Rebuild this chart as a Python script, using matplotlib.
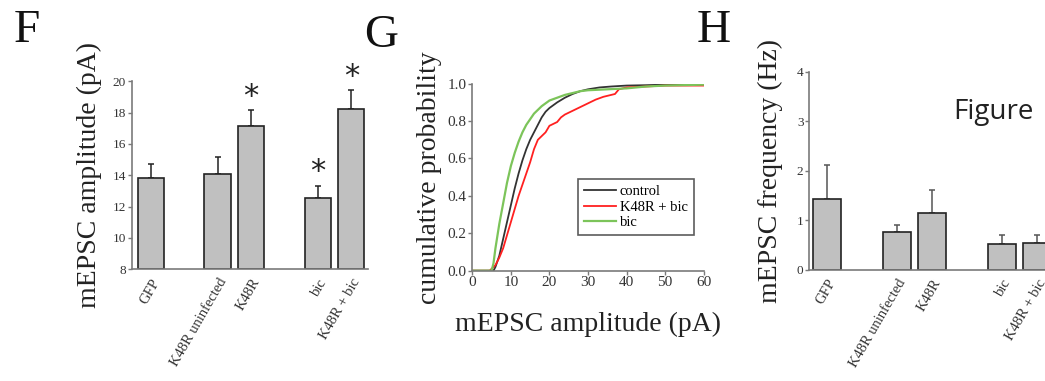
import matplotlib
matplotlib.use("Agg")
import matplotlib.pyplot as plt
import numpy as np

plt.rcParams['font.family'] = ['Liberation Serif', 'DejaVu Serif']

# ---------------- data ----------------
bar_labels = ["GFP", "K48R uninfected", "K48R", "bic", "K48R + bic"]
bar_pos = [0, 2, 3, 5, 6]

amp_mean = [13.81, 14.08, 17.13, 12.57, 18.25]
amp_err = [0.89, 1.07, 1.02, 0.77, 1.17]
amp_sig = [False, False, True, True, True]

freq_mean = [1.43, 0.76, 1.14, 0.52, 0.54]
freq_err = [0.68, 0.15, 0.48, 0.18, 0.16]

ctrl_x = [0, 5.5, 6, 7, 8, 9, 10, 11, 12, 13, 14, 15, 16, 17, 18, 19, 20, 22,
          24, 26, 28, 30, 33, 36, 40, 45, 50, 55, 60]
ctrl_y = [0, 0, 0.02, 0.08, 0.17, 0.26, 0.35, 0.44, 0.52, 0.59, 0.65, 0.70,
          0.74, 0.78, 0.82, 0.85, 0.87, 0.90, 0.925, 0.945, 0.96, 0.97, 0.98,
          0.985, 0.99, 0.992, 0.995, 0.997, 0.998]

redx = [0, 4.5, 5, 6, 7, 8, 9, 10, 11, 12, 13, 14, 15, 16, 17, 18, 19, 20, 21,
        22, 23, 24, 26, 28, 30, 32, 34, 36, 37, 38, 40, 45, 50, 60]
redy = [0, 0, 0.01, 0.03, 0.07, 0.12, 0.19, 0.26, 0.33, 0.40, 0.46, 0.52, 0.58,
        0.65, 0.70, 0.72, 0.74, 0.775, 0.785, 0.795, 0.82, 0.835, 0.855, 0.875,
        0.895, 0.915, 0.93, 0.94, 0.945, 0.97, 0.98, 0.985, 0.99, 0.99]

bic_x = [0, 5, 5.5, 6, 7, 8, 9, 10, 11, 12, 13, 14, 15, 16, 17, 18, 19, 20, 22,
         24, 26, 28, 30, 35, 40, 45, 50, 60]
bic_y = [0, 0, 0.04, 0.12, 0.25, 0.36, 0.47, 0.56, 0.63, 0.69, 0.74, 0.78,
         0.81, 0.84, 0.86, 0.88, 0.895, 0.91, 0.925, 0.94, 0.95, 0.96, 0.965,
         0.97, 0.975, 0.985, 0.99, 0.995]

W, H = 1045, 381
fig = plt.figure(figsize=(W / 100, H / 100), dpi=100)

spine_c = '#7a7a7a'
tick_c = '#333333'
bar_fc = '#c0c0c0'
bar_ec = '#222222'


def ax_rect(x0, x1, ytop, ybot):
    return [x0 / W, (H - ybot) / H, (x1 - x0) / W, (ybot - ytop) / H]


def style_bar_axes(ax):
    for s in ['top', 'right']:
        ax.spines[s].set_visible(False)
    for s in ['left', 'bottom']:
        ax.spines[s].set_color(spine_c)
        ax.spines[s].set_linewidth(1.2)
    ax.tick_params(axis='y', direction='out', length=3, width=1, color=spine_c,
                   labelsize=9.5, labelcolor=tick_c, pad=1)
    ax.tick_params(axis='x', length=0, labelsize=10.5, labelcolor=tick_c, pad=5)
    ax.set_xticks(bar_pos)
    ax.set_xticklabels(bar_labels, rotation=60, ha='right', rotation_mode='anchor')


# ---------------- Panel F ----------------
axF = fig.add_axes(ax_rect(131.7, 368, 81.3, 269.3))
axF.bar(bar_pos, np.array(amp_mean) - 8, bottom=8, width=0.79, color=bar_fc,
        edgecolor=bar_ec, linewidth=1.2, zorder=2)
axF.errorbar(bar_pos, amp_mean, yerr=[np.zeros(5), amp_err], fmt='none',
             ecolor='#222222', elinewidth=1.1, capsize=2.2, capthick=1.1, zorder=1)
for p, m, e, s in zip(bar_pos, amp_mean, amp_err, amp_sig):
    if s:
        axF.text(p, m + e - 0.05, '*', ha='center', va='bottom', fontsize=22,
                 color='#222222', family='DejaVu Sans')
axF.set_ylim(8, 20)
axF.set_xlim(-0.57, 6.5)
axF.set_yticks(np.arange(8, 21, 2))
style_bar_axes(axF)
axF.set_ylabel('mEPSC amplitude (pA)', fontsize=20, color='#222222', labelpad=8)
axF.patch.set_alpha(0)

# ---------------- Panel G ----------------
axG = fig.add_axes(ax_rect(472.3, 703.7, 83.7, 270.7))
axG.plot(ctrl_x, ctrl_y, color='#333333', lw=1.3, label='control')
axG.plot(redx, redy, color='#ff2020', lw=1.3, label='K48R + bic')
axG.plot(bic_x, bic_y, color='#7cc45a', lw=1.6, label='bic')
axG.set_xlim(0, 60)
axG.set_ylim(0, 1.0)
axG.set_xticks(np.arange(0, 61, 10))
axG.set_yticks(np.arange(0, 1.01, 0.2))
axG.set_yticklabels(['%.1f' % v for v in np.arange(0, 1.01, 0.2)])
for s in ['top', 'right']:
    axG.spines[s].set_visible(False)
for s in ['left', 'bottom']:
    axG.spines[s].set_color(spine_c)
    axG.spines[s].set_linewidth(1.2)
axG.tick_params(direction='out', length=3, width=1, color=spine_c,
                labelsize=11, labelcolor=tick_c, pad=1)
axG.set_ylabel('cumulative probability', fontsize=20, color='#222222', labelpad=4)
axG.set_xlabel('mEPSC amplitude (pA)', fontsize=20, color='#222222', labelpad=16)
leg = axG.legend(loc='upper left', bbox_to_anchor=((578.3 - 472.3) / 231.4,
                                                    (270.7 - 179.3) / 187.0),
                 fontsize=10.5, frameon=True, fancybox=False, handlelength=2.2,
                 handletextpad=0.25, borderpad=0.4, labelspacing=0.15,
                 borderaxespad=0)
leg.get_frame().set_edgecolor('#333333')
leg.get_frame().set_linewidth(1.2)
axG.patch.set_alpha(0)

# ---------------- Panel H ----------------
axH = fig.add_axes(ax_rect(809, 1058, 71.7, 270))
axH.bar(bar_pos, freq_mean, width=0.8, color=bar_fc, edgecolor=bar_ec,
        linewidth=1.2, zorder=2)
axH.errorbar(bar_pos, freq_mean, yerr=[np.zeros(5), freq_err], fmt='none',
             ecolor='#555555', elinewidth=1.1, capsize=2.2, capthick=1.1, zorder=1)
axH.set_ylim(0, 4)
axH.set_xlim(-0.51, 6.6)
axH.set_yticks(range(0, 5))
style_bar_axes(axH)
axH.set_ylabel('mEPSC frequency (Hz)', fontsize=20, color='#222222', labelpad=10)
axH.patch.set_alpha(0)

# ---------------- panel letters / text ----------------
fig.text(14 / W, 1 - 42 / H, 'F', fontsize=34, color='#111111', va='baseline')
fig.text(364 / W, 1 - 47 / H, 'G', fontsize=34, color='#111111', va='baseline')
fig.text(697 / W, 1 - 42 / H, 'H', fontsize=34, color='#111111', va='baseline')
fig.text(953 / W, 1 - 119 / H, 'Figure', fontsize=20, color='#222222',
         family='Open Sans', va='baseline')

fig.savefig('out.png', dpi=100)
